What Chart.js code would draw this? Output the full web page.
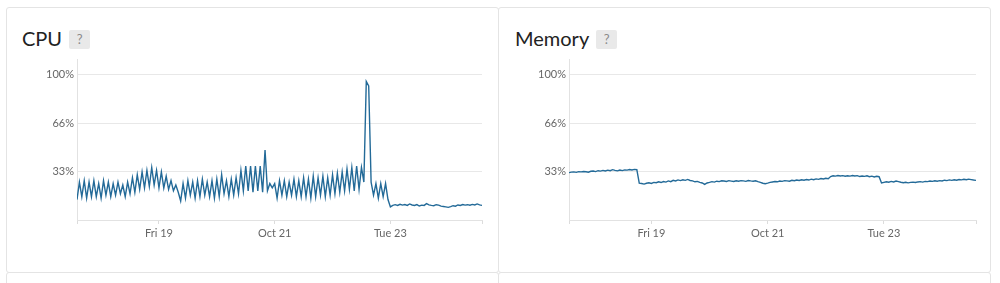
<!DOCTYPE html>
<html>
<head>
<meta charset="utf-8">
<script src="https://cdn.jsdelivr.net/npm/chart.js@4.4.0/dist/chart.umd.min.js"></script>
<style>
  body { margin: 0; background: #fff; font-family: Lato, "Open Sans", sans-serif; }
  .panel { position: absolute; box-sizing: border-box; border: 1px solid #e4e4e4; border-radius: 3px; background: #fff; }
  .title { position: absolute; top: 26px; font-size: 20px; color: #222; line-height: 24px; }
  .badge { display: inline-block; width: 21px; height: 19px; margin-left: 7px; background: #e9e9e9; color: #8a8a8a;
           font-size: 13px; line-height: 19px; text-align: center; border-radius: 2px; vertical-align: 2px; }
  canvas { position: absolute; top: 50px; }
</style>
</head>
<body>
<div class="panel" style="left:6px; top:272px; width:493px; height:40px;"></div>
<div class="panel" style="left:498px; top:272px; width:493px; height:40px;"></div>
<div class="panel" style="left:6px; top:7px; width:493px; height:266px;"></div>
<div class="panel" style="left:498px; top:7px; width:493px; height:266px;"></div>

<div class="title" style="left:22px;">CPU<span class="badge">?</span></div>
<div class="title" style="left:515px;">Memory<span class="badge">?</span></div>

<canvas id="cpuChart" width="470" height="200" style="left:20px;"></canvas>
<canvas id="memChart" width="472" height="200" style="left:512px;"></canvas>

<script>
// hourly samples, Oct 17 14:00 -> Oct 24 14:00
const tickHours = [0, 34, 82, 130, 168];
const tickLabels = ['', 'Fri 19', 'Oct 21', 'Tue 23', ''];
const yTicks = [33, 66, 100];

const cpuValues = [
    14, 26, 16, 27, 15, 26, 16, 27, 16, 25,
    15, 27, 17, 26, 16, 25, 17, 26, 18, 24,
    16, 26, 18, 29, 19, 31, 21, 33, 22, 34,
    23, 36, 24, 34, 22, 33, 22, 30, 21, 27,
    20, 24, 19, 13, 25, 15, 27, 17, 26, 15,
    27, 16, 28, 17, 26, 16, 27, 15, 28, 16,
    31, 18, 27, 16, 28, 17, 29, 18, 34, 20,
    37, 20, 37, 19, 37, 20, 37, 19, 48, 20,
    25, 22, 25, 15, 27, 17, 27, 16, 26, 17,
    28, 16, 27, 16, 29, 16, 28, 15, 30, 16,
    29, 17, 30, 16, 29, 17, 31, 18, 32, 19,
    33, 20, 35, 21, 36, 20, 37, 21, 36, 26,
    95, 92, 26, 17, 25, 15, 25, 16, 25, 14,
    9, 10, 10.5, 10, 10.8, 10.2, 10.6, 10, 11, 10.3,
    10, 10.6, 9.6, 10.2, 10, 11.2, 10.4, 10, 9.8, 10.5,
    10.2, 9.5, 9.3, 9, 8.7, 9.2, 9.8, 9.5, 10.3, 10,
    10.6, 10.2, 10.5, 10.1, 10.7, 10.3, 11, 10.4, 10
];

const memValues = [
    32.5, 32.8, 33, 32.7, 33.2, 33, 33.3, 33.1, 32.8, 33.4,
    33.6, 33.2, 33.8, 33.5, 34, 33.6, 34.2, 33.8, 34.5, 34,
    33.7, 34.3, 33.9, 34.4, 34.2, 34.6, 34.3, 34.7, 34.5, 25.3,
    25, 24.6, 25.2, 25.5, 25.1, 25.8, 25.6, 26.2, 25.7, 26.4,
    26, 26.8, 26.3, 27.2, 26.8, 27.5, 27, 27.6, 27.2, 27.8,
    27.1, 26.8, 26.2, 26.5, 25.8, 25.4, 24.4, 25.4, 25.8, 26.3,
    26, 26.6, 26.3, 26.9, 26.7, 26.4, 27, 26.7, 26.4, 26.9,
    26.6, 27, 26.8, 26.5, 27.1, 26.8, 26.6, 26.9, 26.3, 25.8,
    25.2, 24.9, 25.3, 25.8, 26.1, 26.4, 26.2, 26.7, 26.5, 27,
    26.8, 26.6, 27.2, 26.9, 27.4, 27.1, 27.6, 27.3, 27.8, 27.4,
    28, 27.6, 28.2, 27.9, 28.4, 28.1, 28.6, 28.3, 29.8, 30.3,
    30.1, 30.5, 30.2, 30.4, 30, 30.3, 30.1, 30.5, 30.2, 30.4,
    29.8, 30.2, 29.9, 30.3, 29.7, 30.1, 29.5, 30, 29.7, 25.4,
    25.8, 26.2, 25.9, 26.5, 26.1, 26.7, 26.3, 25.9, 25.6, 25.9,
    25.5, 25.8, 26, 25.7, 26.1, 26.3, 26, 26.5, 26.3, 26.7,
    26.5, 26.9, 26.6, 27, 26.8, 27.3, 27, 27.5, 27.2, 27.6,
    27.3, 27.8, 27.5, 27.9, 27.6, 28, 27.7, 27.4, 27.2
];

const lineColor = '#236a98';
const labelFont = { family: 'Lato', size: 11 };

function makeChart(id, values) {
    const ctx = document.getElementById(id).getContext('2d');
    return new Chart(ctx, {
        type: 'line',
        data: {
            datasets: [{
                data: values.map((v, i) => ({ x: i, y: v })),
                borderColor: lineColor,
                borderWidth: 1.4,
                pointRadius: 0,
                tension: 0,
                fill: false
            }]
        },
        options: {
            responsive: false,
            animation: false,
            devicePixelRatio: 1,
            layout: { padding: { top: 7, right: 8, left: 0, bottom: 0 } },
            plugins: { legend: { display: false }, tooltip: { enabled: false } },
            scales: {
                x: {
                    type: 'linear',
                    min: tickHours[0],
                    max: tickHours[tickHours.length - 1],
                    afterBuildTicks: scale => { scale.ticks = tickHours.map(v => ({ value: v })); },
                    afterFit: scale => { scale.height = 30; },
                    grid: { drawOnChartArea: false, color: '#dcdcdc', tickLength: 4 },
                    border: { display: true, color: '#e2e2e2' },
                    ticks: {
                        autoSkip: false,
                        maxRotation: 0,
                        padding: 3,
                        color: '#666',
                        font: labelFont,
                        callback: value => tickLabels[tickHours.indexOf(value)] || ''
                    }
                },
                y: {
                    min: 0,
                    max: 110,
                    afterBuildTicks: scale => { scale.ticks = yTicks.map(v => ({ value: v })); },
                    afterFit: scale => { scale.width = 57; },
                    grid: { color: '#e8e8e8', drawTicks: false },
                    border: { display: true, color: '#e2e2e2' },
                    ticks: {
                        padding: 3,
                        color: '#666',
                        font: labelFont,
                        callback: value => value + '%'
                    }
                }
            }
        }
    });
}

makeChart('cpuChart', cpuValues);
makeChart('memChart', memValues);
</script>
</body>
</html>
